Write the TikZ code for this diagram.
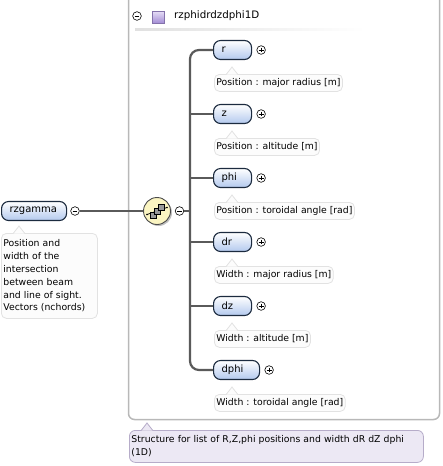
\documentclass[tikz,border=0pt]{standalone}
\usepackage{fontspec}
\setmainfont{DejaVu Sans}
\usetikzlibrary{calc}
\definecolor{conn}{HTML}{5A5A5A}
\definecolor{elemline}{HTML}{1C2B3F}
\definecolor{elemfill}{HTML}{B3C9EE}
\definecolor{docline}{HTML}{E2E2E2}
\definecolor{docfill}{HTML}{FCFCFC}
\definecolor{cmtline}{HTML}{B6ACC9}
\definecolor{cmtfill}{HTML}{ECE8F4}
\definecolor{boxline}{HTML}{B8B8B8}
\definecolor{seqfill}{HTML}{FBF5C2}
\definecolor{sqtop}{HTML}{E6DDF6}
\definecolor{sqbot}{HTML}{A58FD6}
\newcommand\ptr[3]{\filldraw[draw=#2,fill=#3,line width=0.8pt] ($(#1.north west)+(12,0.7)$) -- ($(#1.north west)+(18,-7)$) -- ($(#1.north west)+(24,0.7)$);}
\begin{document}
\begin{tikzpicture}[x=1pt,y=-1pt,
  lbl/.style={font=\fontsize{10}{12}\selectfont},
  elem/.style={draw=elemline, line width=1.1pt, rounded corners=7pt, top color=white, bottom color=elemfill,
    minimum height=19pt, inner xsep=8pt, inner ysep=0pt, align=left, anchor=west, lbl},
  doc/.style={draw=docline, fill=docfill, line width=0.8pt, rounded corners=5pt, anchor=north west,
    minimum height=17pt, inner xsep=2pt, inner ysep=2pt, align=left, font=\fontsize{9.3}{12.8}\selectfont},
  pm/.style={circle, draw=black, line width=0.6pt, fill=white, minimum size=8.6pt, inner sep=0pt},
  minus/.style={pm, path picture={\draw[line width=0.7pt] ($(path picture bounding box.center)+(-2.4,0)$) -- ++(4.8,0);}},
  plus/.style={pm, path picture={\draw[line width=0.7pt] ($(path picture bounding box.center)+(-2.4,0)$) -- ++(4.8,0);
      \draw[line width=0.7pt] ($(path picture bounding box.center)+(0,-2.4)$) -- ++(0,4.8);}},
  cn/.style={draw=conn, line width=2.2pt},
]
\useasboundingbox (0,0) rectangle (442,466);
% outer group box
\draw[boxline, line width=1.5pt, rounded corners=6pt] (128.5,-10) rectangle (439.5,419.5);
\node[minus] (hm) at (137,16) {};
\node[draw=sqbot!80!black, line width=0.5pt, top color=sqtop, bottom color=sqbot, minimum size=11.5pt, inner sep=0pt] (hsq) at (158,17) {};
\node[anchor=west, inner sep=0pt, font=\fontsize{10.3}{12}\selectfont] (htitle) at (174,16) {rzphidrdzdphi1D};
\shade[left color=black!12, right color=white] (135,28.5) rectangle (365,30);
% root
\node[elem, text width=49pt] (root) at (1,211) {rzgamma};
\node[minus] (rootm) at (75,211) {};
\node[doc, text width=92pt, minimum height=85pt, anchor=north west] (rootdoc) at (1,233) {Position and\\width of the\\intersection\\between beam\\and line of sight.\\Vectors (nchords)};
\ptr{rootdoc}{docline}{docfill}
% compositor
\fill[black!25] (158.5,212.5) circle (13.5);
\node[circle, draw=black!70, line width=0.9pt, fill=seqfill, minimum size=27pt, inner sep=0pt] (seq) at (157,211) {};
\node[minus] (seqm) at (179.5,211) {};
\draw[cn] (rootm.east) -- (seq.west);
\draw[cn] (seqm.east) -- (190,211);
% compositor icon
\draw[black, line width=0.7pt] (147,214.5) -- (167,207.5);
\fill (147,214.5) circle (0.9);
\fill (167,207.5) circle (0.9);
\filldraw[draw=black, fill=black!40, line width=0.5pt] (150,212.5) rectangle (156,218.5);
\filldraw[draw=black, fill=black!40, line width=0.5pt] (154,208.5) rectangle (160,214.5);
\filldraw[draw=black, fill=black!40, line width=0.5pt] (158,204.5) rectangle (164,210.5);
% children
\node[elem, text width=22pt] (r) at (213,50) {r};
\node[elem, text width=22pt] (z) at (213,114) {z};
\node[elem, text width=22pt] (phi) at (213,178) {phi};
\node[elem, text width=22pt] (dr) at (213,242) {dr};
\node[elem, text width=22pt] (dz) at (213,306) {dz};
\node[elem, text width=30pt] (dphi) at (213,370) {dphi};
\coordinate (trunk) at (190,211);
\draw[cn, rounded corners=9pt] (r.west) -| (trunk) |- (dphi.west);
\foreach \n in {z,phi,dr,dz} {\draw[cn] (\n.west -| trunk) -- (\n.west);}
\foreach \n in {r,z,phi,dr,dz,dphi} {\node[plus] (\n p) at ($(\n.east)+(9,0)$) {};}
% docs
\node[doc] (rdoc) at (214,74) {Position : major radius [m]};
\node[doc] (zdoc) at (214,138) {Position : altitude [m]};
\node[doc] (phidoc) at (214,202) {Position : toroidal angle [rad]};
\node[doc] (drdoc) at (214,266) {Width : major radius [m]};
\node[doc] (dzdoc) at (214,330) {Width : altitude [m]};
\node[doc] (dphidoc) at (214,394) {Width : toroidal angle [rad]};
\foreach \n in {rdoc,zdoc,phidoc,drdoc,dzdoc,dphidoc} {\ptr{\n}{docline}{docfill}}
% comment
\node[draw=cmtline, fill=cmtfill, line width=0.8pt, rounded corners=6pt, anchor=north west, text width=290pt,
  minimum height=32pt, inner xsep=2pt, inner ysep=2pt, align=left, font=\fontsize{9.3}{13}\selectfont] (cmt) at (129,430)
  {Structure for list of R,Z,phi positions and width dR dZ dphi\\(1D)};
\ptr{cmt}{cmtline}{cmtfill}
\end{tikzpicture}
\end{document}
